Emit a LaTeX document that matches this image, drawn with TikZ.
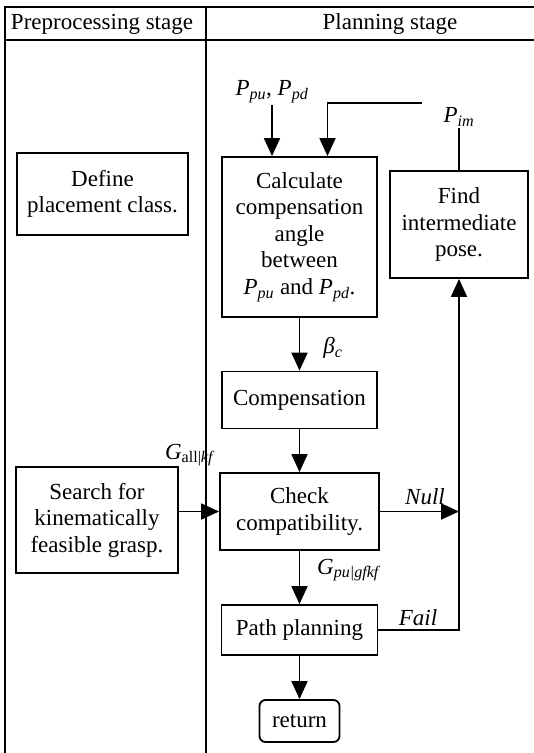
\documentclass[tikz,border=0pt]{standalone}
\usepackage{fontspec}
\setmainfont{Liberation Serif}
\usetikzlibrary{positioning,arrows.meta,calc}
\newcommand{\sym}[2]{\textit{#1}\textsubscript{\textit{#2}}}

\begin{document}
\begin{tikzpicture}[x=1pt,y=-1pt,line width=1.8pt,
  font=\fontsize{23}{26.5}\selectfont,
  box/.style={draw,align=center,inner sep=2pt},
  arr/.style={-{Triangle[length=18pt,width=16pt]}},
  lab/.style={inner sep=1pt}]
\useasboundingbox (0,0) rectangle (534,753);
% table frame, right side runs off the page
\draw (5,753) -- (5,7) -- (540,7);
\draw (5,40) -- (540,40);
\draw (206,7) -- (206,753);
\node (hpre) at (102,24) {Preprocessing stage};
\node (hplan) at (390,24) {Planning stage};
% preprocessing stage
\node[box,minimum width=171,minimum height=82] (define) at (102.5,194) {Define\\placement class.};
\node[box,minimum width=162,minimum height=106] (search) at (97,520) {Search for\\kinematically\\feasible grasp.};
% planning stage
\node[box,minimum width=155,minimum height=160] (calc) at (299.5,237) {Calculate\\compensation\\angle\\between\\\sym{P}{pu} and \sym{P}{pd}.};
\node[box,minimum width=138,minimum height=107] (find) at (459,224.5) {Find\\intermediate\\pose.};
\node[box,minimum width=155,minimum height=57] (comp) at (299.5,400) {Compensation};
\node[box,minimum width=159,minimum height=77] (check) at (299.5,511.5) {Check\\compatibility.};
\node[box,minimum width=156,minimum height=50] (path) at (299.5,630) {Path planning};
\node[box,rounded corners=6pt,minimum width=80,minimum height=42] (ret) at (299.5,721) {return};
% labels on the connectors
\node[lab] (ppu) at (272,92) {\sym{P}{pu}, \sym{P}{pd}};
\node[lab] (pim) at (459,117) {\sym{P}{im}};
\node[lab] (beta) at (333,348) {\textit{β}\textsubscript{\textit{c}}};
\node[lab] (gall) at (190,455) {\textit{G}\textsubscript{all|\textit{kf}}};
\node[lab] (gpu) at (349,570) {\sym{G}{pu|gfkf}};
\node[lab] (null) at (425,497) {\textit{Null}};
\node[lab] (fail) at (418,618) {\textit{Fail}};
\coordinate (fb) at (422,103);
% connectors
\draw[arr] (ppu.south) -- (ppu.south |- calc.north);
\draw (find.north) -- (pim.south);
\draw[arr] (fb) -| ([xshift=28pt]calc.north);
\draw[arr] (calc) -- (comp);
\draw[arr] (comp) -- (check);
\draw[arr] (search.east |- check.west) -- (check.west);
\draw[arr] (check.east) -- (check.east -| find.south);
\draw[arr] (path.east) -| (find.south);
\draw[arr] (check) -- (path);
\draw[arr] (path) -- (ret);
\end{tikzpicture}
\end{document}
